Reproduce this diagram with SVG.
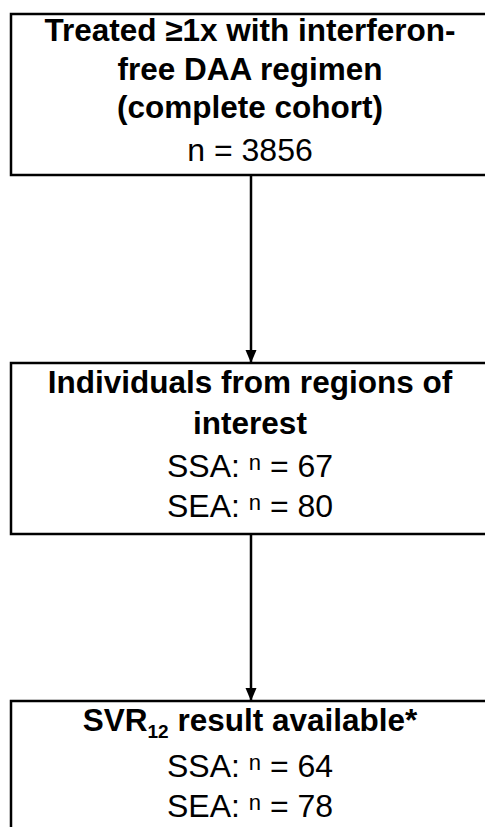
<svg xmlns="http://www.w3.org/2000/svg" width="485" height="827" viewBox="0 0 485 827">
<defs>
<style>
.box{fill:#fff;stroke:#000;stroke-width:2.5}
.b{font-family:"Liberation Sans",Arial,sans-serif;font-weight:bold;font-size:31.5px;fill:#000;text-anchor:middle}
.r{font-family:"Liberation Sans",Arial,sans-serif;font-size:32px;fill:#000;text-anchor:middle}
.sup{font-size:22px}
.sub{font-size:19px}
.conn{stroke:#000;stroke-width:2.5;fill:none}
</style>
<marker id="ah" markerWidth="13" markerHeight="14" refX="13" refY="7" orient="auto" markerUnits="userSpaceOnUse">
<path d="M0,1.5 L13,7 L0,12.5 Z" fill="#000"/>
</marker>
</defs>
<rect width="485" height="827" fill="#fff"/>
<g id="connectors">
<line class="conn" x1="251" y1="175" x2="251" y2="363" marker-end="url(#ah)"/>
<line class="conn" x1="251" y1="534" x2="251" y2="701" marker-end="url(#ah)"/>
</g>
<g id="node1">
<rect class="box" x="11" y="14" width="482" height="161"/>
<text class="b" x="250" y="41">Treated ≥1x with interferon-</text>
<text class="b" x="250" y="80">free DAA regimen</text>
<text class="b" x="250" y="118">(complete cohort)</text>
<text class="r" x="250" y="161">n = 3856</text>
</g>
<g id="node2">
<rect class="box" x="11" y="363" width="482" height="171"/>
<text class="b" x="250" y="393">Individuals from regions of</text>
<text class="b" x="250" y="434">interest</text>
<text class="r" x="250" y="477">SSA: <tspan class="sup" dy="-7">n</tspan><tspan dy="7"> = 67</tspan></text>
<text class="r" x="250" y="517">SEA: <tspan class="sup" dy="-7">n</tspan><tspan dy="7"> = 80</tspan></text>
</g>
<g id="node3">
<rect class="box" x="11" y="701" width="482" height="140"/>
<text class="b" x="250" y="731">SVR<tspan class="sub" dy="7">12</tspan><tspan dy="-7"> result available*</tspan></text>
<text class="r" x="250" y="777">SSA: <tspan class="sup" dy="-7">n</tspan><tspan dy="7"> = 64</tspan></text>
<text class="r" x="250" y="817">SEA: <tspan class="sup" dy="-7">n</tspan><tspan dy="7"> = 78</tspan></text>
</g>
</svg>
